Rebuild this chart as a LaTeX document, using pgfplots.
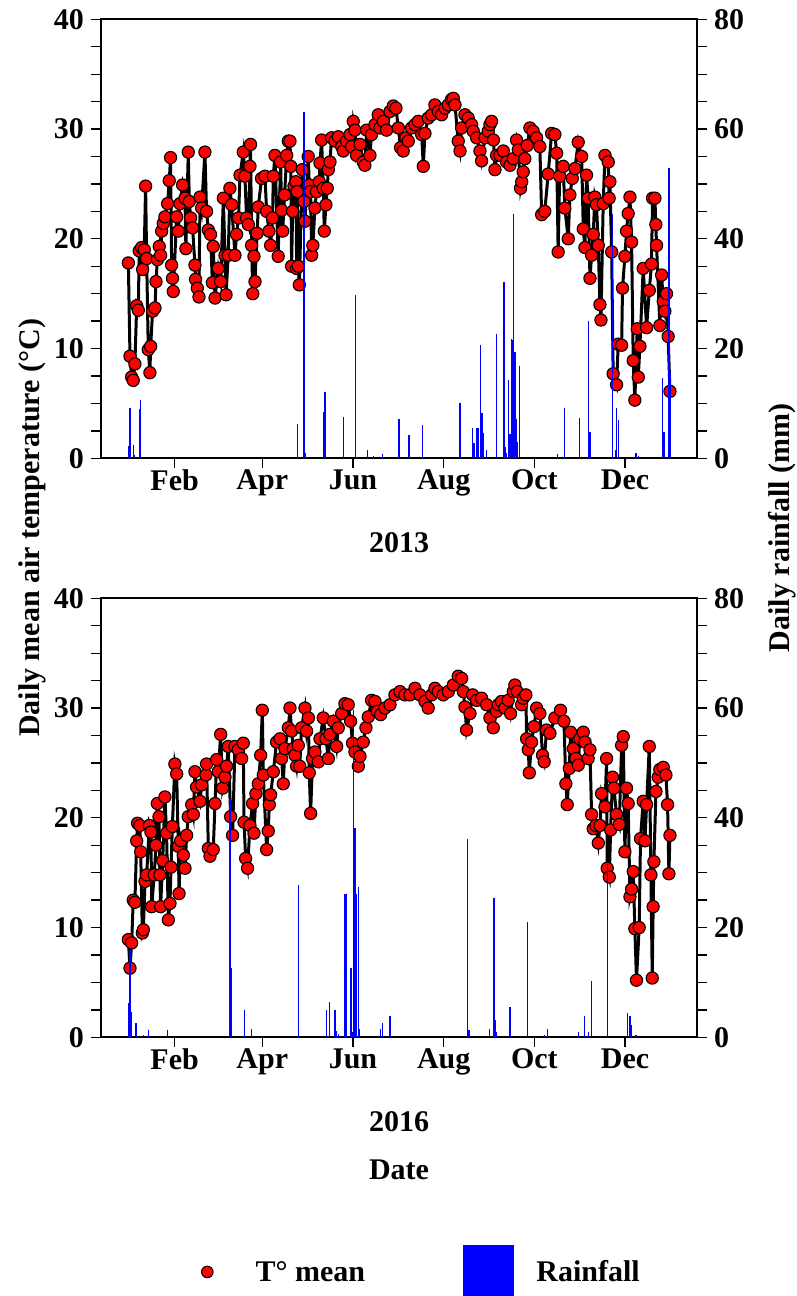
\documentclass[border=0pt]{standalone}
\usepackage{pgfplots}
\usepackage{pgfplotstable}
\pgfplotsset{compat=1.18}
\usepackage{fontspec}
\setmainfont{Liberation Serif}
\newcommand{\bigf}{\fontsize{30}{36}\selectfont\bfseries}

\pgfplotstableread{
d T
0.9 17.8
2.0 9.3
3.1 7.4
4.2 7.1
5.3 8.6
6.5 13.9
7.6 13.5
8.2 18.9
9.8 19.2
10.5 17.2
11.6 19.0
12.5 24.8
13.2 18.2
14.3 9.9
15.4 7.8
15.9 10.2
17.2 13.4
18.8 13.7
19.5 16.1
20.4 18.1
21.7 19.3
22.6 18.5
23.3 20.7
24.4 21.4
25.5 22.0
27.3 23.2
28.4 25.3
29.3 27.4
30.0 17.6
30.6 16.4
31.1 15.2
33.4 22.0
34.5 20.7
35.6 23.2
37.4 24.9
39.0 23.7
39.6 19.1
41.2 27.9
41.9 23.4
42.8 21.9
44.1 21.0
45.7 17.6
46.1 16.3
47.3 15.5
48.4 14.7
49.1 23.8
50.2 22.8
52.4 27.9
53.5 22.5
54.7 20.8
56.2 20.4
57.4 16.0
58.0 19.3
59.2 14.6
61.4 17.3
63.0 16.1
64.8 23.7
65.9 18.5
66.6 14.9
68.1 18.5
69.2 24.6
70.4 23.1
72.6 18.5
73.7 20.4
75.0 21.9
76.0 25.8
78.2 27.9
79.3 25.7
80.4 21.9
81.6 21.3
82.7 26.6
83.1 28.6
83.8 19.4
84.6 15.0
85.4 18.4
86.1 16.1
87.5 20.5
88.3 22.9
90.5 25.5
92.8 25.7
93.9 22.5
95.5 20.7
96.6 19.4
97.9 21.9
98.4 25.7
99.5 27.6
101.7 18.4
103.3 27.0
104.0 22.6
104.7 20.7
106.0 24.0
107.4 27.6
108.5 28.9
109.6 28.9
110.2 26.6
110.7 17.5
111.4 22.5
112.3 24.8
113.6 25.2
114.1 17.3
114.5 24.3
115.2 17.5
115.9 15.8
117.9 26.3
119.0 23.4
119.7 21.6
121.9 27.5
122.6 24.9
123.5 24.3
124.2 18.5
125.0 19.4
126.4 22.8
127.5 24.3
129.3 25.2
129.8 26.9
130.9 29.0
132.0 24.6
132.7 20.7
133.8 23.1
134.7 24.6
135.4 26.3
136.5 27.0
137.6 29.2
139.9 28.9
142.1 29.3
144.4 28.4
145.5 28.0
147.7 28.9
150.0 29.5
151.1 28.4
152.2 30.7
153.3 29.9
154.4 27.6
156.7 28.6
158.9 27.0
160.0 26.7
161.2 29.9
163.4 27.6
164.5 29.5
166.8 30.4
169.0 31.3
170.1 30.1
172.4 30.7
174.6 29.9
176.9 31.6
179.1 32.1
180.9 31.9
182.5 30.1
184.0 28.3
185.8 28.0
187.6 29.2
189.2 28.9
191.4 30.1
193.7 30.4
195.9 30.7
198.2 29.5
199.3 26.6
200.4 29.6
202.6 31.0
204.9 31.3
207.1 32.2
209.4 31.6
211.6 31.3
213.9 31.9
216.1 32.2
218.3 32.7
219.5 32.8
220.6 32.2
222.8 28.9
224.0 28.0
225.1 30.1
227.3 31.3
229.5 31.0
231.8 30.4
232.9 29.8
235.2 29.2
237.4 28.0
238.5 27.1
240.8 29.2
243.0 29.8
244.1 30.4
245.2 30.7
246.5 29.0
247.5 26.3
248.6 27.6
250.8 27.6
253.1 28.0
255.3 27.0
257.6 26.7
259.8 27.3
262.0 29.0
263.2 28.1
264.7 24.6
265.5 25.2
266.5 26.1
267.6 27.3
269.2 28.5
271.0 30.1
273.2 29.8
275.5 29.2
277.7 28.4
278.9 22.2
281.0 22.5
283.3 25.9
285.6 29.6
287.8 29.5
289.0 27.8
290.0 18.8
291.0 25.7
293.4 26.6
294.5 22.8
296.8 20.0
297.9 24.0
299.5 25.5
301.3 26.4
303.5 28.8
305.8 27.5
306.9 20.9
308.0 19.2
309.1 25.8
310.2 23.7
311.4 16.4
312.5 18.5
313.6 20.4
314.7 23.8
315.8 23.1
317.0 19.4
318.1 14.0
318.8 12.6
320.3 23.2
321.5 27.6
323.7 27.0
324.3 23.7
324.8 25.2
326.0 18.8
327.0 7.7
329.3 6.7
330.4 10.4
332.7 10.3
333.3 15.5
334.9 18.4
336.0 20.7
337.1 22.3
338.3 23.8
339.4 19.7
340.5 8.9
341.6 5.3
343.2 11.8
343.9 7.4
345.0 10.2
347.2 17.3
349.5 11.9
351.3 15.3
352.8 17.7
353.5 23.7
355.1 23.7
355.7 21.3
356.2 19.4
358.4 12.1
359.6 16.7
360.7 14.3
361.8 13.4
362.9 15.0
364.0 11.1
365.2 6.1
}\tempA

\pgfplotstableread{
d R
1.3 2.3
2.0 9.2
4.2 2.4
5.1 0.6
8.3 9.0
9.2 10.6
114.8 6.3
119.0 63.1
119.9 1.0
132.0 8.5
133.1 12.1
145.5 7.6
153.8 29.7
161.8 1.5
165.6 0.5
171.7 0.8
182.9 7.1
189.6 4.2
198.8 6.0
224.0 10.1
232.5 5.5
233.4 2.7
235.2 5.5
236.0 5.5
237.6 20.6
238.3 8.2
239.2 8.2
239.9 4.6
241.9 1.6
248.6 22.6
253.5 32.2
254.4 2.0
255.3 1.0
256.4 14.3
257.1 4.5
258.0 4.5
258.7 21.8
259.1 21.5
259.8 44.6
260.2 19.1
260.9 19.4
261.6 7.2
262.5 3.0
263.8 16.9
289.6 0.8
294.5 9.1
304.2 7.3
310.5 25.0
311.4 4.8
326.4 44.6
328.8 1.5
329.3 9.1
330.4 6.9
342.3 1.0
344.1 0.5
360.2 14.7
361.1 4.8
364.5 52.9
365.2 15.8
}\rainA

\pgfplotstableread{
d T
0.9 8.9
2.0 6.3
3.1 8.6
4.2 12.5
5.3 12.3
6.5 17.9
7.1 19.5
8.7 19.3
9.2 16.9
10.3 9.5
11.0 9.8
12.1 14.2
13.2 14.8
15.0 19.3
16.1 18.7
16.6 11.9
18.3 14.8
19.5 17.5
20.4 21.3
21.5 20.1
22.1 14.8
22.6 11.9
24.0 16.1
25.5 21.9
26.6 18.6
27.8 10.7
28.9 12.2
29.6 15.5
30.5 19.2
32.2 24.9
33.4 24.0
34.5 17.4
35.0 13.1
36.1 17.9
37.9 16.6
39.0 15.4
40.1 18.4
41.2 20.1
43.5 21.2
44.6 20.3
45.7 24.2
46.8 22.8
49.1 21.5
50.2 23.0
53.1 23.9
53.5 24.9
54.7 17.2
55.8 16.5
58.0 17.1
59.2 21.3
60.3 25.3
61.4 24.2
63.0 27.6
64.3 22.7
65.9 23.7
67.0 24.7
68.1 26.5
69.7 20.1
71.0 18.4
72.6 26.5
74.8 26.2
77.1 25.4
78.2 26.8
78.7 19.6
79.8 16.3
81.1 15.4
82.7 19.3
84.5 21.3
85.4 18.6
86.7 22.2
88.3 23.1
89.9 25.7
91.0 29.8
91.7 23.9
93.9 17.1
95.0 18.8
95.7 21.2
96.6 22.1
98.4 24.2
100.6 26.9
102.9 27.2
104.0 25.4
105.1 23.1
106.2 26.3
108.5 28.2
109.6 30.0
110.7 27.9
111.8 26.3
113.0 25.7
114.1 24.7
115.2 26.6
116.2 24.7
117.4 28.2
119.7 30.0
120.8 27.9
122.0 29.1
122.6 24.1
123.5 20.4
124.8 25.4
126.4 26.0
128.7 25.1
129.8 27.2
132.0 29.1
133.8 27.2
135.4 25.4
136.5 27.6
138.7 28.8
141.0 26.5
142.1 28.2
144.4 29.5
146.6 30.4
148.8 30.3
150.4 28.8
151.7 26.8
153.3 26.0
155.6 24.7
156.7 25.6
158.9 26.9
160.7 28.2
162.3 29.2
164.5 30.7
166.8 30.6
168.3 29.7
170.6 29.4
173.5 30.0
176.9 30.3
180.2 31.2
183.6 31.5
186.9 31.2
190.3 31.2
193.7 31.8
197.0 31.2
200.4 30.6
202.6 30.0
204.9 31.2
207.1 31.8
209.4 31.5
212.7 31.2
216.1 31.5
219.5 32.1
222.8 32.9
225.1 32.7
226.2 31.5
227.3 30.1
228.4 28.0
230.7 29.5
232.5 31.2
235.2 30.7
238.5 30.9
241.9 30.3
244.1 29.1
246.4 28.2
248.6 29.7
249.7 30.3
251.9 30.6
254.2 30.0
256.4 30.7
258.0 29.5
259.8 31.5
260.9 32.1
262.5 31.5
265.4 30.3
266.5 30.9
268.3 31.2
268.8 27.2
269.9 26.2
270.6 24.1
272.1 26.9
273.7 28.3
275.5 30.0
277.7 29.5
279.5 25.7
280.6 25.1
282.2 28.0
284.5 27.7
287.8 29.1
291.6 29.8
293.9 28.8
295.2 23.1
296.1 21.2
297.5 24.5
298.4 27.8
300.2 26.3
302.0 25.4
303.5 24.8
304.6 27.2
306.9 27.8
308.0 26.9
310.2 25.4
311.4 26.2
312.5 20.3
313.6 19.0
315.4 19.3
317.0 17.7
318.1 19.3
319.2 22.2
321.5 21.0
322.6 25.4
323.0 15.4
324.4 14.6
325.3 18.9
326.6 23.7
327.5 22.7
329.3 20.3
331.1 19.4
332.7 26.6
333.8 27.4
334.9 16.9
336.0 22.7
337.1 21.3
338.3 12.8
339.4 13.5
340.5 15.1
341.6 9.9
342.7 5.2
344.5 10.0
345.4 18.1
347.2 21.5
348.4 17.9
349.5 21.2
351.3 26.5
352.4 14.8
353.3 5.4
353.9 11.9
354.4 16.0
355.8 22.4
357.3 23.7
358.4 24.4
360.7 24.6
362.5 23.9
363.6 21.2
364.5 14.9
365.2 18.4
}\tempB

\pgfplotstableread{
d R
1.3 6.2
2.0 15.9
3.1 4.7
6.0 2.6
10.9 0.4
14.3 1.3
27.1 1.3
69.2 43.5
69.9 12.6
78.9 5.0
83.8 1.6
115.2 27.7
134.3 5.0
136.1 6.5
139.9 5.0
141.0 1.2
142.1 0.6
146.6 26.1
147.3 26.1
150.6 12.7
151.3 1.0
152.2 59.6
153.3 38.1
154.4 26.2
155.6 27.4
156.2 1.5
170.6 1.6
171.9 2.6
176.9 3.9
228.9 36.2
230.0 1.3
243.7 1.5
246.8 25.3
247.7 3.1
248.1 1.0
257.6 5.5
269.4 21.0
280.6 0.5
282.7 1.5
303.5 0.9
307.5 3.9
310.5 1.0
312.5 10.3
323.2 31.5
336.5 4.4
338.3 3.8
339.4 2.2
342.3 0.5
}\rainB

\pgfplotsset{
  common/.style={
    scale only axis, width=596pt, height=439pt,
    xmin=-17.5, xmax=383.4,
    tick align=outside,
    major tick length=10pt, minor tick length=10pt,
    tick style={black, line width=1.3pt},
    axis line style={line width=1.8pt},
    ticklabel style={font=\bigf},
    /pgf/number format/assume math mode=true,
  },
  tempaxis/.style={
    common,
    ymin=0, ymax=40,
    ytick={0,10,20,30,40}, minor y tick num=3,
    xtick={32,91,152,213,274,335},
    xticklabels={Feb,Apr,Jun,Aug,Oct,Dec},
    xtick pos=left, ytick pos=left,
    xticklabel style={inner sep=1pt},
    yticklabel style={inner sep=7pt},
    xlabel style={at={(axis description cs:0.5,0)}, anchor=base, yshift=-94.5pt, font=\bigf, inner sep=0pt},
  },
  rainaxis/.style={
    common,
    ymin=0, ymax=80,
    ytick={0,20,40,60,80}, minor y tick num=3,
    axis x line=none, axis y line*=right, ytick pos=right,
    yticklabel style={inner sep=7pt},
  },
  tline/.style={black, line width=3pt, mark=*, mark size=6.1pt,
    mark options={fill=red, draw=black, line width=1.1pt, solid}},
  rbar/.style={blue, ycomb, line width=1.3pt, no marks},
}

\begin{document}
\begin{tikzpicture}
\useasboundingbox (0,0) rectangle (796pt,1296pt);

% ---- 2013 ----
\begin{axis}[tempaxis, at={(101pt,837.7pt)}, anchor=south west, xlabel={2013}]
  \addplot[tline] table[x=d, y=T] {\tempA};
\end{axis}
\begin{axis}[rainaxis, at={(101pt,837.7pt)}, anchor=south west]
  \addplot[rbar] table[x=d, y=R] {\rainA};
\end{axis}

% ---- 2016 ----
\begin{axis}[tempaxis, at={(101pt,258.7pt)}, anchor=south west, xlabel={2016}]
  \addplot[tline] table[x=d, y=T] {\tempB};
\end{axis}
\begin{axis}[rainaxis, at={(101pt,258.7pt)}, anchor=south west,
  legend columns=2,
  legend style={at={(axis description cs:0.1678,-0.4738)}, anchor=north west,
    draw=none, fill=none, inner sep=0pt, outer sep=0pt, font=\bigf,
    nodes={inner sep=0pt},
    /tikz/column 1/.style={column sep=42pt},
    /tikz/column 2/.style={column sep=98pt},
    /tikz/column 3/.style={column sep=22pt}},
  legend cell align=left]
  \addlegendimage{legend image code/.code={\draw[black, fill=red, line width=1pt] (0pt,0pt) circle (5.8pt);}}
  \addlegendentry{T° mean}
  \addplot[rbar, legend image code/.code={\fill[blue] (0pt,-25pt) rectangle (50pt,26pt);}] table[x=d, y=R] {\rainB};
  \addlegendentry{Rainfall}
\end{axis}

\node[rotate=90, font=\bigf, inner sep=0pt] at (32pt,768pt) {Daily mean air temperature (°C)};
\node[rotate=90, font=\bigf, inner sep=0pt] at (782pt,768pt) {Daily rainfall (mm)};
\node[font=\bigf, inner sep=0pt, anchor=base] at (399pt,116pt) {Date};
\end{tikzpicture}
\end{document}
